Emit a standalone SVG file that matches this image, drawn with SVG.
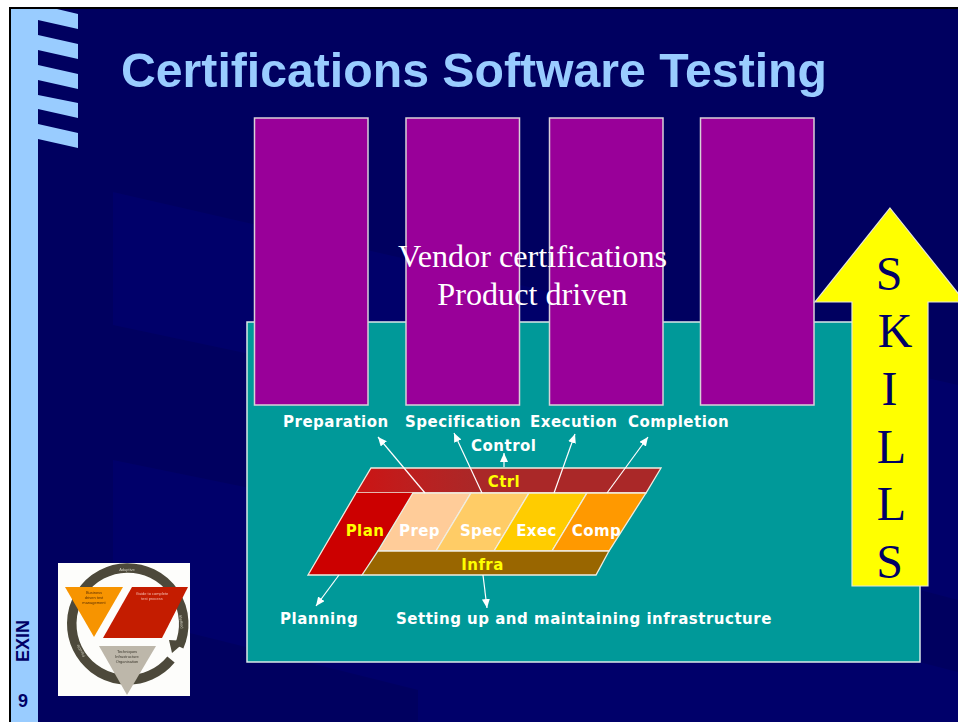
<svg xmlns="http://www.w3.org/2000/svg" width="958" height="722" viewBox="0 0 958 722">
<style>
.lbl{font-family:"DejaVu Sans",Verdana,sans-serif;font-weight:bold;font-size:15px;letter-spacing:.5px;fill:#fff}
.in{font-family:"DejaVu Sans",Verdana,sans-serif;font-weight:bold;font-size:15px;letter-spacing:.4px;text-anchor:middle}
.y{fill:#ff0}.w{fill:#fff}
.sk{font-family:"Liberation Serif","Times New Roman",serif;font-size:48px;fill:#000066;text-anchor:middle}
.vend{font-family:"Liberation Serif","Times New Roman",serif;font-size:32.2px;fill:#fff;text-anchor:middle}
.bar{fill:#990099;stroke:#d8d0d8;stroke-width:1.5}
.p{stroke:#f0ece0;stroke-width:1.3}
.c{stroke:#fff;stroke-width:1.2;fill:none;marker-end:url(#ah)}
.side{font-family:"Liberation Sans",Arial,sans-serif;font-weight:bold;font-size:18px;fill:#000066}
.tiny{font-family:"Liberation Sans",Arial,sans-serif;font-size:4px;text-anchor:middle}
</style>
<defs>
<marker id="ah" markerUnits="userSpaceOnUse" markerWidth="10" markerHeight="10" refX="9" refY="4" orient="auto"><path d="M0 0L9 4L0 8Z" fill="#fff"/></marker>
<linearGradient id="ctrlg" x1="0" x2="1" y1="0" y2="0"><stop offset="0" stop-color="#cc1414"/><stop offset="0.2" stop-color="#bb2020"/><stop offset="0.4" stop-color="#aa2828"/></linearGradient>
<filter id="soft" x="-5%" y="-5%" width="110%" height="110%"><feGaussianBlur stdDeviation="0.5"/></filter>
</defs>
<g id="background">
<rect width="958" height="722" fill="#fff"/>
<rect x="9" y="7" width="949" height="715" fill="#000"/>
<rect x="11" y="9" width="947" height="713" fill="#000060"/>
<polygon points="113,192 958,385 958,600 920,590 245,353 113,325" fill="#00006a"/>
<polygon points="113,460 245,487 958,672 958,722 418,722 418,690 310,663 113,614" fill="#00006a"/>
<rect x="11" y="9" width="27" height="713" fill="#99ccff"/>
<polygon points="38,9 57,9 78,14 78,29 38,20" fill="#99ccff"/>
<polygon points="38,35 78,44 78,59 38,50" fill="#99ccff"/>
<polygon points="38,65 78,74 78,89 38,80" fill="#99ccff"/>
<polygon points="38,95 78,103 78,118 38,109" fill="#99ccff"/>
<polygon points="38,124 78,133 78,148 38,139" fill="#99ccff"/>
</g>
<g id="title"><text x="121" y="87" font-family="'Liberation Sans',Arial,sans-serif" font-weight="bold" font-size="48.2" fill="#99ccff">Certifications Software Testing</text></g>
<g id="side-labels">
<text class="side" transform="translate(29,662) rotate(-90)">EXIN</text>
<text class="side" x="18" y="707">9</text>
</g>
<g id="panel"><rect x="247" y="322" width="673" height="340" fill="#009999" stroke="#d8e8e8" stroke-width="1.5"/></g>
<g id="vendor-bars">
<rect class="bar" x="254.500" y="118" width="113.500" height="287"/>
<rect class="bar" x="406" y="118" width="113.500" height="287"/>
<rect class="bar" x="549.500" y="118" width="113.500" height="287"/>
<rect class="bar" x="700.500" y="118" width="113.500" height="287"/>
<text class="vend" x="532.500" y="267">Vendor certifications</text>
<text class="vend" x="532.500" y="305">Product driven</text>
</g>
<g id="skills">
<polygon points="890,208 965,302 928,302 928,586 852,586 852,302 815,302" fill="#ff0" stroke="#e8e8d8" stroke-width="1.200"/>
<text class="sk" x="889" y="290">S</text>
<text class="sk" x="895" y="347">K</text>
<text class="sk" x="889.500" y="405">I</text>
<text class="sk" x="891.500" y="463">L</text>
<text class="sk" x="891.500" y="520">L</text>
<text class="sk" x="889.500" y="578">S</text>
</g>
<g id="ctrl"><polygon class="p" points="371,468 661,468 646,493 356,493" fill="url(#ctrlg)"/><text class="in y" x="504" y="487">Ctrl</text></g>
<g id="plan"><polygon points="356,493 413,493 362,575 308,575" fill="#cc0000" stroke="none"/><polyline points="356,493 308,575 362,575" fill="none" class="p"/><text class="in y" x="365" y="536">Plan</text></g>
<g id="prep"><polygon class="p" points="413,493 471,493 436,551 378,551" fill="#ffcc99"/><text class="in w" x="419.500" y="536">Prep</text></g>
<g id="spec"><polygon class="p" points="471,493 529,493 494,551 436,551" fill="#ffcc66"/><text class="in w" x="481" y="536">Spec</text></g>
<g id="exec"><polygon class="p" points="529,493 587,493 552,551 494,551" fill="#ffcc00"/><text class="in w" x="536.500" y="536">Exec</text></g>
<g id="comp"><polygon class="p" points="587,493 646,493 609,551 552,551" fill="#ff9900"/><text class="in w" x="596.500" y="536">Comp</text></g>
<g id="infra"><polygon class="p" points="378,551 609,551 596,575 362,575" fill="#996600"/><text class="in y" x="482.500" y="570" letter-spacing="1">Infra</text></g>
<g id="connectors">
<line class="c" x1="425" y1="493" x2="378" y2="437"/>
<line class="c" x1="482" y1="493" x2="454" y2="433"/>
<line class="c" x1="504" y1="467" x2="504" y2="453"/>
<line class="c" x1="554" y1="493" x2="575" y2="434"/>
<line class="c" x1="607" y1="493" x2="648" y2="437"/>
<line class="c" x1="339" y1="575" x2="316" y2="606"/>
<line class="c" x1="483" y1="575" x2="487" y2="608"/>
</g>
<g id="labels">
<text class="lbl" x="283" y="427">Preparation</text>
<text class="lbl" x="405" y="427">Specification</text>
<text class="lbl" x="530" y="427">Execution</text>
<text class="lbl" x="628" y="427">Completion</text>
<text class="lbl" x="471" y="451">Control</text>
<text class="lbl" x="280" y="624">Planning</text>
<text class="lbl" x="396" y="624">Setting up and maintaining infrastructure</text>
</g>
<g id="logo">
<rect x="58" y="563" width="132" height="133" fill="#fdfdfb"/>
<g filter="url(#soft)">
<path d="M171 659.500A56 56 0 1 1 179 646.500" fill="none" stroke="#4d4a3a" stroke-width="9.500"/>
<polygon points="169,640 186,641 172,653" fill="#4d4a3a"/>
<polygon points="65,587 123,587 94,637" fill="#f79400"/>
<polygon points="132,587 188,587 162,638 103,638" fill="#c41a00"/>
<polygon points="99,646 156,646 127,695" fill="#bdb7aa"/>
<text class="tiny" x="127" y="571" fill="#cfccc0" font-size="6">Adaptive</text>
<text class="tiny" x="94" y="594" fill="#5a3000">Business</text>
<text class="tiny" x="94" y="599" fill="#5a3000">driven test</text>
<text class="tiny" x="94" y="604" fill="#5a3000">management</text>
<text class="tiny" x="152" y="595" fill="#f4c0b0">Guide to complete</text>
<text class="tiny" x="152" y="600" fill="#f4c0b0">test process</text>
<text class="tiny" x="127" y="653" fill="#3e3a30">Techniques</text>
<text class="tiny" x="127" y="658" fill="#3e3a30">Infrastructure</text>
<text class="tiny" x="127" y="663" fill="#3e3a30">Organisation</text>
<text class="tiny" transform="translate(180,622) rotate(82)" fill="#cfccc0" font-size="6">Method</text>
<text class="tiny" transform="translate(82,650) rotate(-120)" fill="#cfccc0" font-size="6">Flexible</text>
</g>
</g>
</svg>
